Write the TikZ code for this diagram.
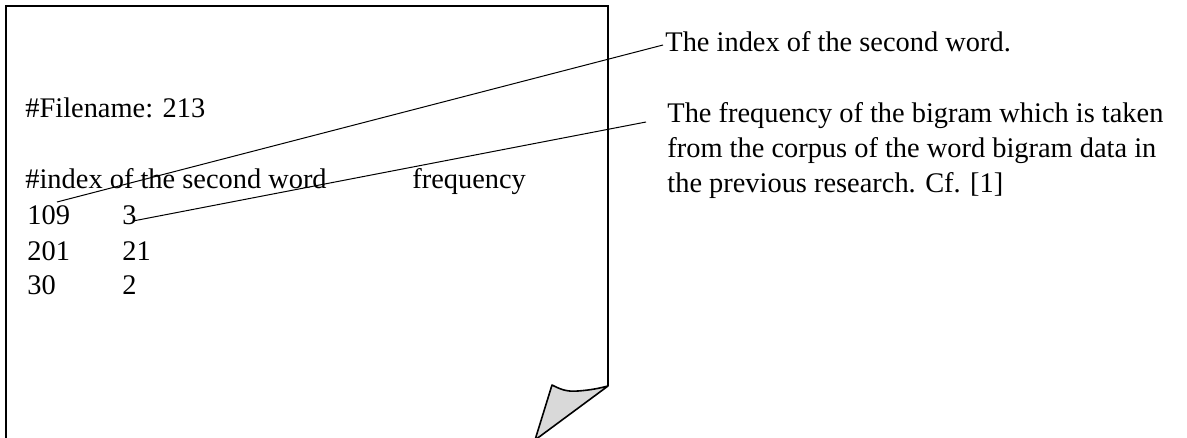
\documentclass[tikz,border=0pt]{standalone}
\usepackage{fontspec}
\setmainfont{Liberation Serif}
\usetikzlibrary{positioning}
\definecolor{foldgray}{HTML}{D9D9D9}

\begin{document}
\begin{tikzpicture}[
  x=0.5pt, y=-0.5pt,
  every node/.style={font=\fontsize{14.2pt}{17.25pt}\selectfont, inner sep=0pt, anchor=base west},
  sheetline/.style={draw=black, line width=1pt},
  leader/.style={draw=black, line width=0.5pt},
]
\useasboundingbox (0,0) rectangle (1187,438);

% The file page with a folded corner
\draw[sheetline] (608,386) -- (608,6) -- (6,6) -- (6,438);
\draw[sheetline, line width=0.8pt, fill=foldgray, line join=round]
  (552,385) .. controls (560,389) and (566,392) .. (578,391)
  .. controls (592,390) and (600,388) .. (608,386) -- (535,440) -- cycle;

% File contents
\node (fname) at (25,118) {\#Filename: 213};
\node (head) at (25,189) {\#index of the second word};
\node (freq) at (412,189) {frequency};
\node (idxa) at (27,225) {109};
\node (frqa) at (122,225) {3};
\node (idxb) at (27,260) {201};
\node (frqb) at (122,260) {21};
\node (idxc) at (27,294) {30};
\node (frqc) at (122,294) {2};

% Explanations on the right
\node (noteidx) at (665,52) {The index of the second word.};
\node (notefrqa) at (667,123) {The frequency of the bigram which is taken};
\node (notefrqb) at (667,157.5) {from the corpus of the word bigram data in};
\node (notefrqc) at (667,192) {the previous research. Cf. [1]};

% Leaders
\coordinate (idxend) at (57,202);
\coordinate (frqend) at (133,221);
\coordinate (frqstart) at (646,122);
\draw[leader] ([xshift=-1pt, yshift=3.5pt]noteidx.base west) -- (idxend);
\draw[leader] (frqstart) -- (frqend);

\end{tikzpicture}
\end{document}
